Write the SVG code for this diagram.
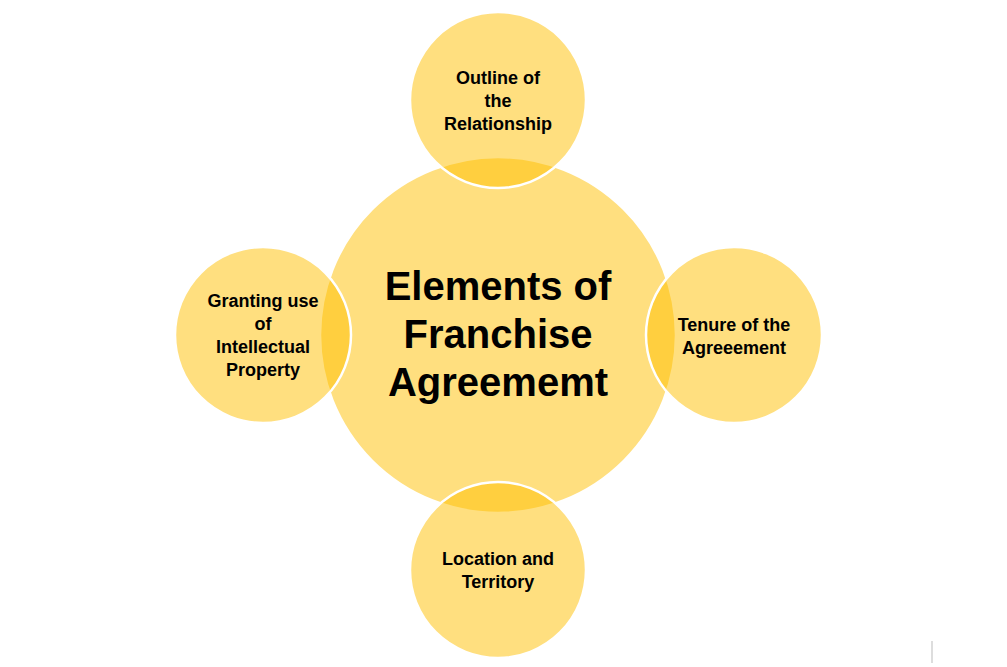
<svg xmlns="http://www.w3.org/2000/svg" width="1007" height="667" viewBox="0 0 1007 667">
<style>
.c{fill:#FFC000;fill-opacity:0.5;stroke:#fff;stroke-width:2.5}
.t{font-family:"Liberation Sans",Arial,sans-serif;font-weight:bold;text-anchor:middle;fill:#000}
.s{font-size:18px}
.b{font-size:40px}
</style>
<rect width="1007" height="667" fill="#fff"/>
<g id="center"><circle class="c" cx="498" cy="335" r="178"/>
<text class="t b"><tspan x="498" y="300">Elements of</tspan><tspan x="498" y="348">Franchise</tspan><tspan x="498" y="396">Agreememt</tspan></text></g>
<g id="top"><circle class="c" cx="498" cy="100" r="88"/>
<text class="t s"><tspan x="498" y="84">Outline of</tspan><tspan x="498" y="107">the</tspan><tspan x="498" y="130">Relationship</tspan></text></g>
<g id="right"><circle class="c" cx="734" cy="335" r="88"/>
<text class="t s"><tspan x="734" y="331">Tenure of the</tspan><tspan x="734" y="354">Agreeement</tspan></text></g>
<g id="bottom"><circle class="c" cx="498" cy="570" r="88"/>
<text class="t s"><tspan x="498" y="565">Location and</tspan><tspan x="498" y="588">Territory</tspan></text></g>
<g id="left"><circle class="c" cx="263" cy="335" r="88"/>
<text class="t s"><tspan x="263" y="307">Granting use</tspan><tspan x="263" y="330">of</tspan><tspan x="263" y="353">Intellectual</tspan><tspan x="263" y="376">Property</tspan></text></g>
<g id="connectors"></g>
<line x1="932" y1="641" x2="932" y2="663" stroke="#bbb" stroke-width="1"/>
</svg>
